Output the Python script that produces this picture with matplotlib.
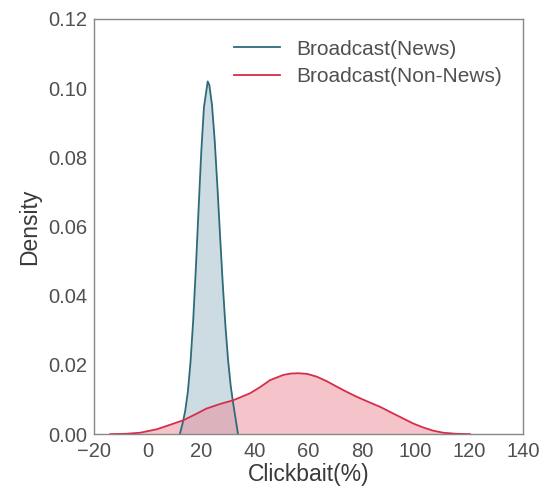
import matplotlib
matplotlib.use('Agg')
import matplotlib.pyplot as plt

plt.rcParams['font.family'] = ['Liberation Sans', 'DejaVu Sans']

# density curves
news_x = [12.0, 13.0, 14.0, 15.0, 16.0, 17.0, 18.0, 19.0, 20.0, 21.0, 22.4, 23.0, 24.0, 25.0,
          26.0, 27.0, 28.0, 29.0, 30.0, 31.0, 32.0, 33.0, 33.7]
news_y = [0.000, 0.0030, 0.0067, 0.0123, 0.0210, 0.0331, 0.0483, 0.0652, 0.0816, 0.0945, 0.1019, 0.1009,
          0.0951, 0.0849, 0.0718, 0.0575, 0.0436, 0.0314, 0.0214, 0.0138, 0.0084, 0.0035, 0.000]

nonnews_x = [-14.0, -8.0, -2.8, 3.4, 8.0, 13.3, 18.0, 22.0, 27.0, 32.0, 38.2, 42.0, 45.7, 50.6, 53.5,
             56.2, 59.5, 63.1, 66.8, 70.6, 74.3, 78.0, 82.4, 86.7, 91.0, 95.4, 99.0, 102.9, 106.5,
             110.3, 115.0, 120.3]
nonnews_y = [0.0, 0.0001, 0.0004, 0.0014, 0.0026, 0.0040, 0.0058, 0.0074, 0.0087, 0.0098, 0.0118,
             0.0136, 0.0156, 0.0171, 0.0175, 0.0176, 0.0174, 0.0166, 0.0153, 0.0137, 0.0122, 0.0108,
             0.0093, 0.0079, 0.0062, 0.0045, 0.0031, 0.0019, 0.0010, 0.0004, 0.0001, 0.0]

labels = ['Broadcast(News)', 'Broadcast(Non-News)']
xticks = [-20, 0, 20, 40, 60, 80, 100, 120, 140]
yticks = [0.00, 0.02, 0.04, 0.06, 0.08, 0.10, 0.12]

news_col = '#2e6b78'
non_col = '#d62d4a'

fig = plt.figure(figsize=(5.44, 4.95), dpi=100)
ax = fig.add_axes([0.173, 0.123, 0.788, 0.839])

ax.fill_between(news_x, news_y, color='#8fb3c0', alpha=0.45, linewidth=0)
ax.plot(news_x, news_y, color=news_col, lw=1.3, label=labels[0])
ax.fill_between(nonnews_x, nonnews_y, color='#ec8a98', alpha=0.5, linewidth=0)
ax.plot(nonnews_x, nonnews_y, color=non_col, lw=1.3, label=labels[1])

ax.set_xlim(-20, 140)
ax.set_ylim(0, 0.12)
ax.set_xticks(xticks)
ax.set_yticks(yticks)
ax.set_yticklabels(['%.2f' % v for v in yticks])
ax.tick_params(length=0, labelsize=14.5, labelcolor='#505050')
ax.tick_params(axis='x', pad=6)
ax.tick_params(axis='y', pad=5)
for s in ax.spines.values():
    s.set_color('#888888')
    s.set_linewidth(1.0)

ax.set_xlabel('Clickbait(%)', fontsize=16.5, color='#3a3a3a', labelpad=1)
ax.set_ylabel('Density', fontsize=16.5, color='#3a3a3a', labelpad=5)

leg = ax.legend(loc='upper right', frameon=False, fontsize=15, handlelength=2.2,
                handletextpad=0.8, borderaxespad=0.6, labelspacing=0.42)
for t in leg.get_texts():
    t.set_color('#505050')

fig.savefig('out.png', dpi=100)
